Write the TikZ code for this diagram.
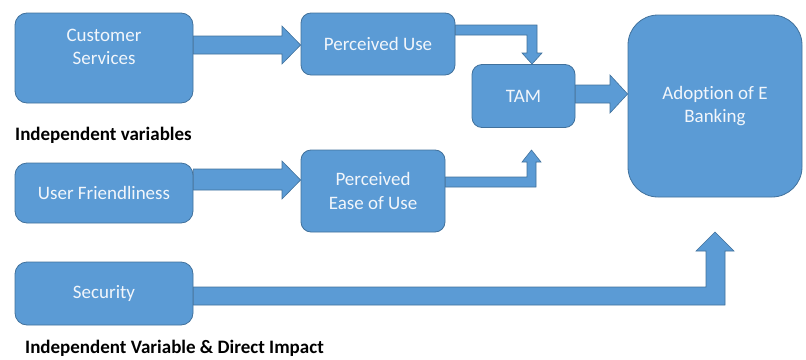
\documentclass[tikz,border=0pt]{standalone}
\usepackage{fontspec}
\setmainfont{Carlito}[Ligatures=NoCommon]
\usetikzlibrary{calc,backgrounds}
\definecolor{boxfill}{HTML}{5B9BD5}
\definecolor{boxline}{HTML}{41719C}
\definecolor{boxtext}{HTML}{F2F6FB}
\begin{document}
\begin{tikzpicture}[x=1pt,y=-1pt,
  box/.style={draw=boxline, fill=boxfill, line width=0.8pt, rounded corners=12pt,
    inner sep=0pt, text=boxtext, align=center, font=\fontsize{19}{23.5}\selectfont},
  boxlbl/.style={text=boxtext, align=center, font=\fontsize{19}{23.5}\selectfont, inner sep=0pt},
  blockarrow/.style={draw=boxline, fill=boxfill, line width=0.6pt, line join=miter},
  note/.style={font=\fontsize{19}{23}\selectfont\bfseries, anchor=west, inner sep=0pt, text=black}]
\useasboundingbox (0,0) rectangle (806,359);
\node[box, minimum width=178pt, minimum height=90pt,
  label={[boxlbl, yshift=11pt]center:{Customer\\Services}}] (cs) at (104,58) {};
\node[box, minimum width=154pt, minimum height=62pt, rounded corners=10pt] (pu) at (378,44) {Perceived Use};
\node[box, minimum width=103pt, minimum height=63pt, rounded corners=10pt] (tam) at (523.5,96) {TAM};
\node[box, minimum width=174pt, minimum height=182pt, rounded corners=30pt] (ad) at (715,106) {Adoption of E\\Banking};
\node[box, minimum width=144pt, minimum height=82pt, rounded corners=10pt] (peu) at (373,191) {Perceived\\Ease of Use};
\node[box, minimum width=178pt, minimum height=60pt] (uf) at (104,193) {User Friendliness};
\node[box, minimum width=178pt, minimum height=63pt] (sec) at (104,293.5) {Security};
\node[note] (l1) at (15,135) {Independent variables};
\node[note] (l2) at (25,348) {Independent Variable \& Direct Impact};
\begin{scope}[on background layer]
\draw[blockarrow] (cs.east |- 0,36) -- (282,36) -- (282,26) -- (pu.west |- 0,45) -- (282,64) -- (282,54) -- (cs.east |- 0,54) -- cycle;
\draw[blockarrow] (pu.east |- 0,25) -- (537,25) -- (537,53) -- (542,53) -- (tam.north -| 532,0) -- (522,53) -- (527,53) -- (527,35) -- (pu.east |- 0,35) -- cycle;
\draw[blockarrow] (tam.east |- 0,85) -- (610,85) -- (610,75) -- (ad.west |- 0,94) -- (610,113) -- (610,103) -- (tam.east |- 0,103) -- cycle;
\draw[blockarrow] (peu.east |- 0,187) -- (536,187) -- (536,162) -- (541,162) -- (531.5,150) -- (522,162) -- (527,162) -- (527,177) -- (peu.east |- 0,177) -- cycle;
\draw[blockarrow] (uf.east |- 0,169) -- (282,169) -- (282,161) -- (peu.west |- 0,180) -- (282,199) -- (282,190) -- (uf.east |- 0,190) -- cycle;
\draw[blockarrow] (sec.east |- 0,287) -- (706,287) -- (706,251) -- (696,251) -- (715,232) -- (734,251) -- (725,251) -- (725,305) -- (sec.east |- 0,305) -- cycle;
\end{scope}
\end{tikzpicture}
\end{document}
